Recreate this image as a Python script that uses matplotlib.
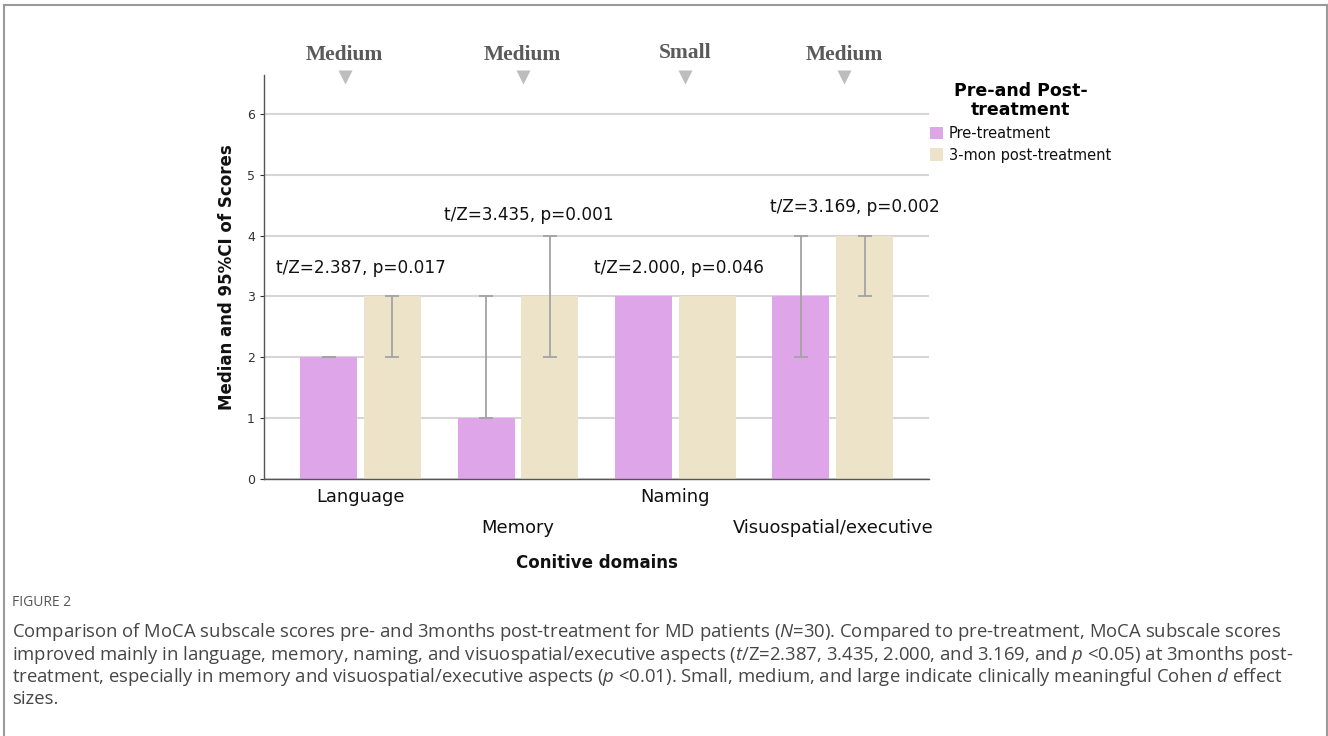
import numpy as np
import matplotlib
matplotlib.use("Agg")
import matplotlib.pyplot as plt

# --- data ---
categories = ["Language", "Memory", "Naming", "Visuospatial/executive"]
pre_median = [2, 1, 3, 3]
post_median = [3, 3, 3, 4]
pre_ci_low = [2, 1, np.nan, 2]
pre_ci_high = [2, 3, np.nan, 4]
post_ci_low = [2, 2, np.nan, 3]
post_ci_high = [3, 4, np.nan, 4]
effect_sizes = ["Medium", "Medium", "Small", "Medium"]
stat_labels = ["t/Z=2.387, p=0.017", "t/Z=3.435, p=0.001",
               "t/Z=2.000, p=0.046", "t/Z=3.169, p=0.002"]
series_names = ["Pre-treatment", "3-mon post-treatment"]

# --- layout / style ---
W, H = 1328, 736
PRE_COLOR = "#dea5e8"
POST_COLOR = "#ece3c8"
ERR_COLOR = "#a3a3a3"
GRID_COLOR = "#d6d6d6"
effect_dx = [-0.10, 0.03, 0.06, 0.07]      # label offsets from group centre
effect_y = [6.97, 6.97, 7.0, 6.97]
stat_pos = [(0.0, 3.47), (0.07, 4.34), (0.02, 3.47), (0.14, 4.47)]
bar_w = 0.362
bar_off = 0.203

plt.rcParams['mathtext.fontset'] = 'custom'
plt.rcParams['mathtext.rm'] = 'Open Sans'
plt.rcParams['mathtext.it'] = 'Open Sans:italic'

fig = plt.figure(figsize=(W / 100, H / 100), dpi=100)


def fx(px):
    return px / W


def fy(py):
    return 1 - py / H


# outer frame (open at the bottom)
fig.add_artist(plt.Line2D([fx(4), fx(4)], [0, fy(5)], color="#9a9a9a", lw=1.5))
fig.add_artist(plt.Line2D([fx(4), fx(1327)], [fy(5), fy(5)], color="#9a9a9a", lw=1.5))
fig.add_artist(plt.Line2D([fx(1327), fx(1327)], [0, fy(5)], color="#9a9a9a", lw=1.5))

ax = fig.add_axes([fx(264), fy(479), fx(929) - fx(264), fy(75) - fy(479)])
x = np.arange(len(categories))

ax.bar(x - bar_off, pre_median, bar_w, color=PRE_COLOR, zorder=2, label=series_names[0])
ax.bar(x + bar_off, post_median, bar_w, color=POST_COLOR, zorder=2, label=series_names[1])

for xs, lows, highs in [(x - bar_off, pre_ci_low, pre_ci_high),
                        (x + bar_off, post_ci_low, post_ci_high)]:
    for xi, lo, hi in zip(xs, lows, highs):
        if np.isnan(lo):
            continue
        mid = (lo + hi) / 2
        ax.errorbar(xi, mid, yerr=[[mid - lo], [hi - mid]], fmt="none",
                    ecolor=ERR_COLOR, elinewidth=1.3, capsize=5, capthick=1.3, zorder=3)

ax.set_xlim(-0.613, 3.61)
ax.set_ylim(0, 6.64)
ax.set_yticks(range(0, 7))
ax.yaxis.grid(True, color=GRID_COLOR, lw=1.5, zorder=0)
ax.set_axisbelow(True)
ax.set_xticks([])
ax.tick_params(axis="y", length=3, labelsize=9, colors="#333333", width=0.8)
for s in ["top", "right"]:
    ax.spines[s].set_visible(False)
for s in ["left", "bottom"]:
    ax.spines[s].set_color("#555555")
    ax.spines[s].set_linewidth(1.0)

# category labels, alternating rows
for i, cat in enumerate(categories):
    yy = -0.0446 if i % 2 == 0 else -0.121
    ax.text(i, yy, cat, transform=ax.get_xaxis_transform(), ha="center",
            va="center", fontsize=12.9, color="#111111")

ax.text(0.5, -0.208, "Conitive domains", transform=ax.transAxes, ha="center",
        va="center", fontsize=12, fontweight="bold", color="#111111")
fig.text(fx(227), fy(277), "Median and 95%CI of Scores", rotation=90,
         ha="center", va="center", fontsize=12, fontweight="bold", color="#111111")

# effect size labels with markers
for i, (lab, dx, yy) in enumerate(zip(effect_sizes, effect_dx, effect_y)):
    ax.plot(i + dx, 6.6, marker="v", ms=10, color="#bdbdbd", mec="none",
            clip_on=False, zorder=4)
    ax.text(i + dx, yy, lab, ha="center", va="center", fontsize=15.5,
            fontweight="bold", family="Liberation Serif", color="#5a5a5a",
            clip_on=False)

# test statistics
for i, (lab, (dx, yy)) in enumerate(zip(stat_labels, stat_pos)):
    ax.text(i + dx, yy, lab, ha="center", va="center", fontsize=12.2, color="#111111")

# legend
leg = ax.legend(title="Pre-and Post-\ntreatment", loc="upper left",
                bbox_to_anchor=(fx(930), fy(82)), bbox_transform=fig.transFigure,
                frameon=False, fontsize=10.5, borderpad=0, borderaxespad=0,
                handlelength=0.9, handleheight=0.9, handletextpad=0.4,
                labelspacing=0.45,
                title_fontproperties={"weight": "bold", "size": 12.5})
leg.get_title().set_multialignment("center")
leg.get_title().set_linespacing(1.1)
for t in leg.get_texts():
    t.set_color("#111111")

# caption
fig.text(fx(12), fy(603), "FIGURE 2", ha="left", va="center", fontsize=10,
         family="Open Sans", color="#555555")
caption_lines = [
    r"Comparison of MoCA subscale scores pre- and 3months post-treatment for MD patients ($\mathit{N}$=30). Compared to pre-treatment, MoCA subscale scores",
    r"improved mainly in language, memory, naming, and visuospatial/executive aspects ($\mathit{t}$/Z=2.387, 3.435, 2.000, and 3.169, and $\mathit{p}$ <0.05) at 3months post-",
    r"treatment, especially in memory and visuospatial/executive aspects ($\mathit{p}$ <0.01). Small, medium, and large indicate clinically meaningful Cohen $\mathit{d}$ effect",
    "sizes.",
]
for k, line in enumerate(caption_lines):
    fig.text(fx(12), fy(632 + 22.5 * k), line, ha="left", va="center",
             fontsize=13.3, family="Open Sans", color="#464646")

fig.savefig("out.png", dpi=100)
